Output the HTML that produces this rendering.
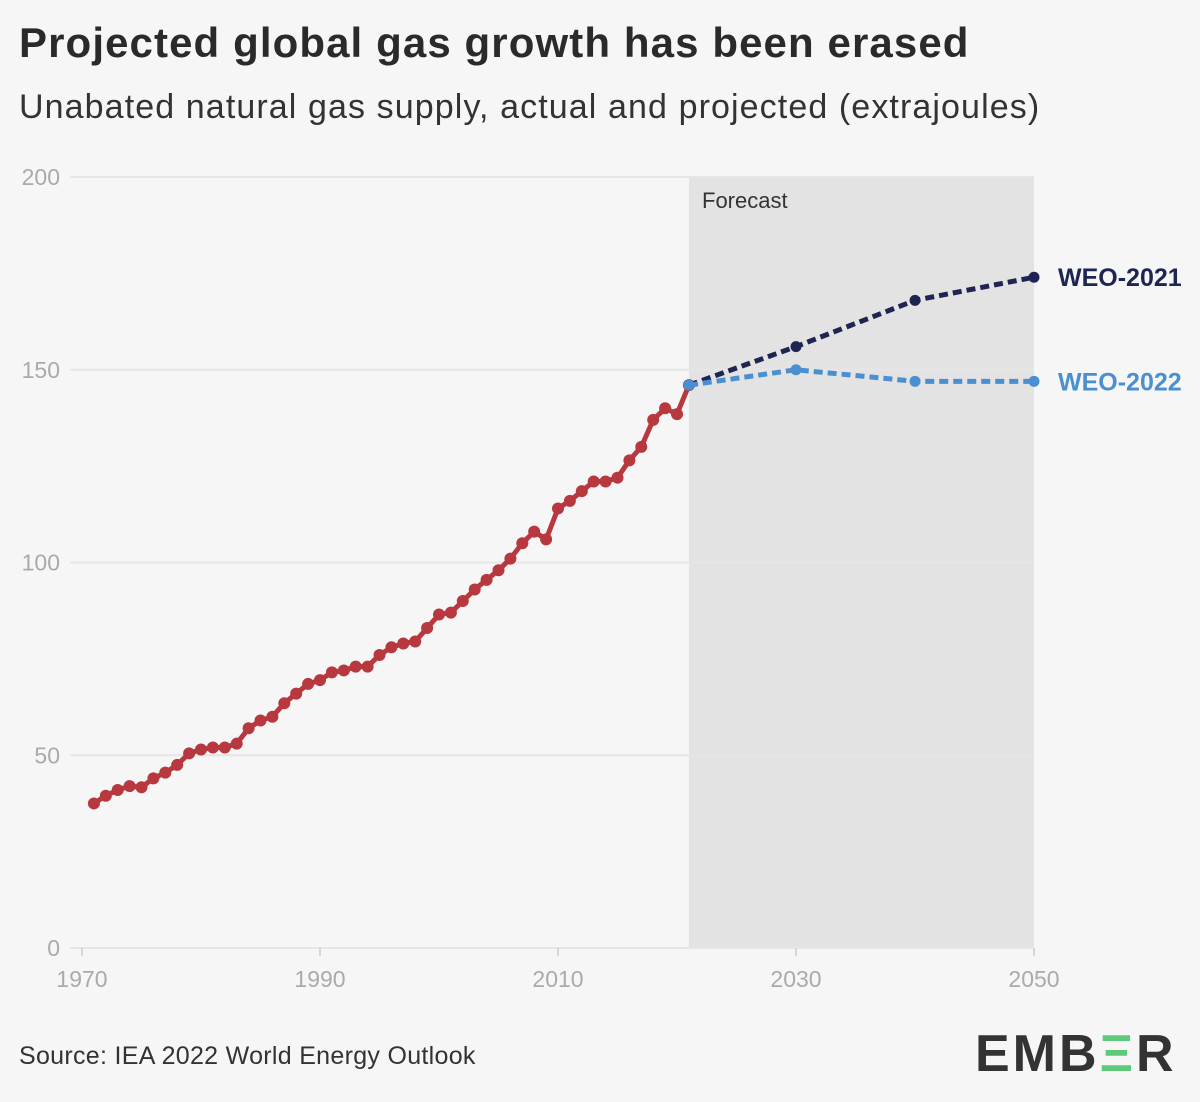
<!DOCTYPE html>
<html><head><meta charset="utf-8"><style>
body{margin:0;background:#f6f6f6;font-family:"Liberation Sans",sans-serif;}
#wrap{position:relative;width:1200px;height:1102px;background:#f6f6f6;overflow:hidden}
h1{position:absolute;left:19px;top:19px;margin:0;font-size:42px;font-weight:bold;color:#2a2a2a;letter-spacing:1.1px}
.sub{position:absolute;left:19px;top:88px;font-size:34px;color:#333;letter-spacing:1.1px}
.src{position:absolute;left:19px;top:1042px;font-size:25px;color:#333;letter-spacing:0.3px}
.logo{position:absolute;left:975px;top:1024px;font-size:52px;font-weight:bold;color:#333;letter-spacing:3px}
</style></head><body>
<div id="wrap">
<h1>Projected global gas growth has been erased</h1>
<div class="sub">Unabated natural gas supply, actual and projected (extrajoules)</div>
<svg id="chart" width="1200" height="1102" style="position:absolute;left:0;top:0"></svg>
<div class="src">Source: IEA 2022 World Energy Outlook</div>
<div class="logo">EMB<span style="color:#5ec97a">Ξ</span>R</div>
</div>
<script>
const years=[];for(let y=1971;y<=2021;y++)years.push(y);
const actual=[37.5,39.5,41,42,41.7,44,45.5,47.5,50.5,51.5,52,52,53,57,59,60,63.5,66,68.5,69.5,71.5,72,73,73,76,78,79,79.5,83,86.5,87,90,93,95.5,98,101,105,108,106,114,116,118.5,121,121,122,126.5,130,137,140,138.5,146];
const fYears=[2021,2030,2040,2050];
const weo2021=[146,156,168,174];
const weo2022=[146,150,147,147];
const yTicks=[0,50,100,150,200];
const xTicks=[1970,1990,2010,2030,2050];
const NS="http://www.w3.org/2000/svg";
const svg=document.getElementById('chart');
const X=y=>82+(y-1970)*(952/80);
const Y=v=>948-v*(771/200);
function el(t,a,p){const e=document.createElementNS(NS,t);for(const k in a)e.setAttribute(k,a[k]);(p||svg).appendChild(e);return e;}
const band=el('rect',{x:X(2021),y:Y(200),width:X(2050)-X(2021),height:Y(0)-Y(200),fill:'#e3e3e3'});


yTicks.forEach(v=>{
 const g=el('line',{x1:70,x2:1034,y1:Y(v),y2:Y(v),stroke:'#e6e6e6','stroke-width':2});
 
 
 const t=el('text',{x:60,y:Y(v)+8,'text-anchor':'end','font-size':23,fill:'#aaa','font-family':'Liberation Sans'});t.textContent=v;
 
 
});
xTicks.forEach(v=>{
 const l=el('line',{x1:X(v),x2:X(v),y1:948,y2:956,stroke:'#ccc','stroke-width':1.5});
 
 
 const t=el('text',{x:X(v),y:987,'text-anchor':'middle','font-size':23,fill:'#aaa','font-family':'Liberation Sans'});t.textContent=v;
 
 
});
const fl=el('text',{x:702,y:208,'font-size':22,fill:'#333','font-family':'Liberation Sans'});fl.textContent='Forecast';


function series(xs,vs,color,dash,name,r){
 const p=el('polyline',{points:xs.map((x,i)=>X(x)+','+Y(vs[i])).join(' '),fill:'none',stroke:color,'stroke-width':5,'stroke-dasharray':dash||'','stroke-linejoin':'round'});
 
 
 xs.forEach((x,i)=>{const c=el('circle',{cx:X(x),cy:Y(vs[i]),r:r,fill:color});
 
 });
}
series(years,actual,'#b8383f','','actual',6);
series(fYears,weo2021,'#1f2552','9,5','weo-2021',5.5);
series(fYears,weo2022,'#4a90d0','9,5','weo-2022',5.5);
const l1=el('text',{x:1058,y:Y(174)+9,'font-size':25,'font-weight':'bold',fill:'#1f2552','font-family':'Liberation Sans'});l1.textContent='WEO-2021';


const l2=el('text',{x:1058,y:Y(147)+9,'font-size':25,'font-weight':'bold',fill:'#4a90d0','font-family':'Liberation Sans'});l2.textContent='WEO-2022';


</script>
</body></html>
